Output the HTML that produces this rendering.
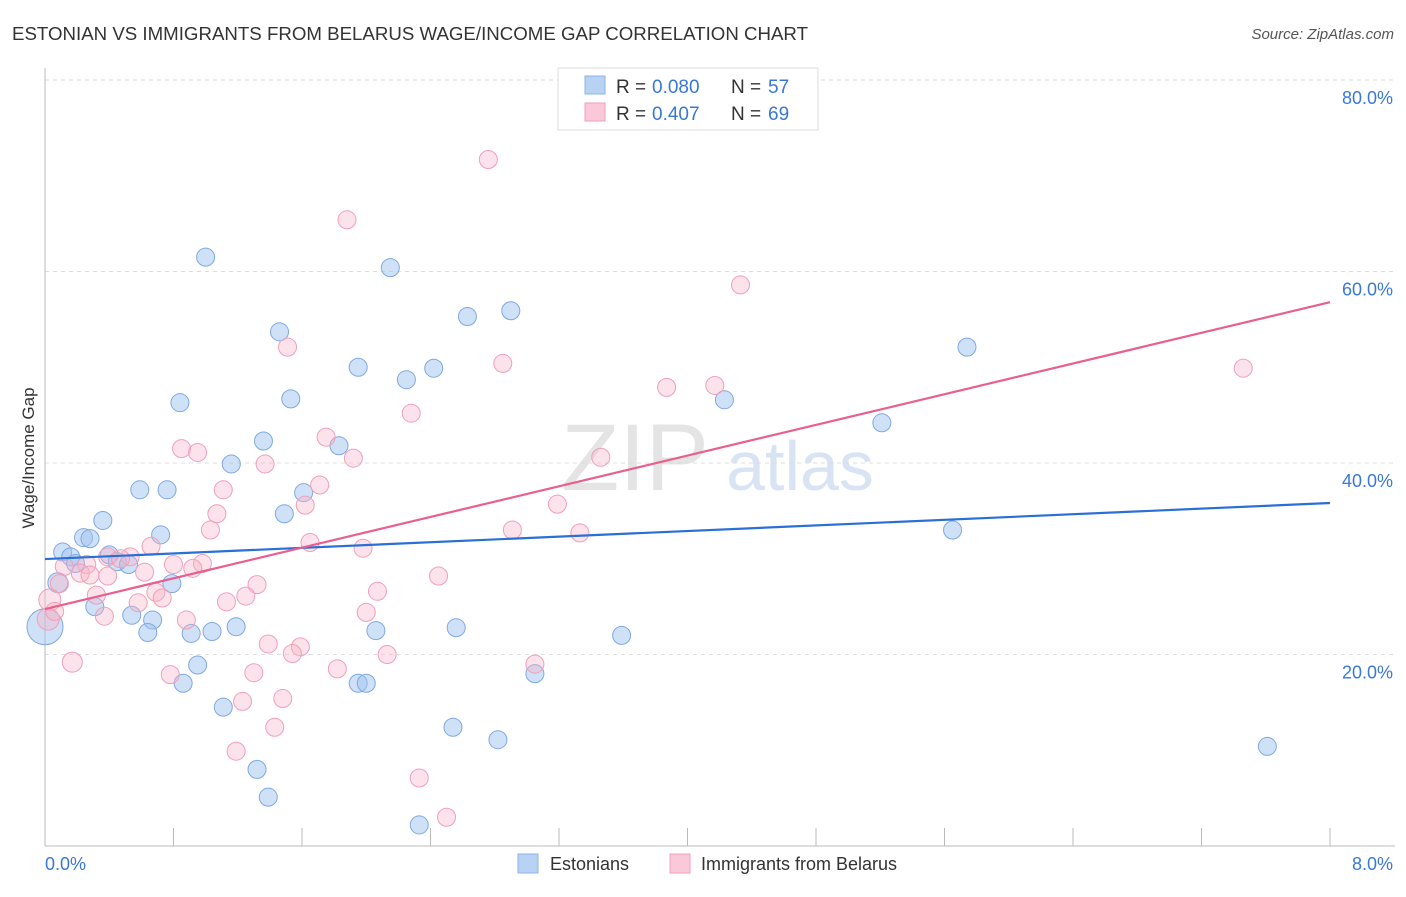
<!DOCTYPE html>
<html><head><meta charset="utf-8"><style>
body{margin:0;background:#fff;font-family:"Liberation Sans",sans-serif;}
svg text{font-family:"Liberation Sans",sans-serif;}
</style></head><body>
<svg id="chart" width="1406" height="892" viewBox="0 0 1406 892">
<text x="12" y="40" font-size="18" fill="#333" textLength="796" lengthAdjust="spacingAndGlyphs">ESTONIAN VS IMMIGRANTS FROM BELARUS WAGE/INCOME GAP CORRELATION CHART</text>
<text x="1394" y="39" font-size="15" fill="#555" text-anchor="end" font-style="italic">Source: ZipAtlas.com</text>
<text x="635" y="490" font-size="95" fill="#e4e4e4" font-family="Liberation Serif" text-anchor="middle">ZIP</text>
<text x="800" y="490" font-size="70" fill="#d8e4f4" text-anchor="middle">atlas</text>
<g id="grid"></g>
<g id="axes"></g>
<g id="pts"></g>
<g id="lines"></g>
<text x="34" y="458" font-size="17" fill="#333" text-anchor="middle" transform="rotate(-90 34 458)">Wage/Income Gap</text>
<text x="45" y="870" font-size="18" fill="#3a78d8">0.0%</text>
<text x="1393" y="870" font-size="18" fill="#3a78d8" text-anchor="end">8.0%</text>
<g>
<rect x="558" y="68" width="260" height="62" fill="#fff" stroke="#ddd"/>
<rect x="585" y="76" width="20" height="18" fill="#b8d2f4" stroke="#8db4e6"/>
<text x="616" y="93" font-size="19" fill="#333">R =</text>
<text x="652" y="93" font-size="19" fill="#3a78d8">0.080</text>
<text x="731" y="93" font-size="19" fill="#333">N =</text>
<text x="768" y="93" font-size="19" fill="#3a78d8">57</text>
<rect x="585" y="103" width="20" height="18" fill="#fac8d8" stroke="#f0a0b8"/>
<text x="616" y="120" font-size="19" fill="#333">R =</text>
<text x="652" y="120" font-size="19" fill="#3a78d8">0.407</text>
<text x="731" y="120" font-size="19" fill="#333">N =</text>
<text x="768" y="120" font-size="19" fill="#3a78d8">69</text>
</g>
<g>
<rect x="518" y="854" width="20" height="19" fill="#b8d2f4" stroke="#8db4e6"/>
<text x="550" y="870" font-size="18" fill="#333">Estonians</text>
<rect x="670" y="854" width="20" height="19" fill="#fac8d8" stroke="#f0a0b8"/>
<text x="701" y="870" font-size="18" fill="#333">Immigrants from Belarus</text>
</g>
</svg>
<script>
const yTicks=[20,40,60,80];
const xTickCount=10;
const blueX=[1.0,2.15,2.9,2.63,1.46,5.74,1.95,2.42,2.25,0.84,1.53,4.23,5.21,1.36,1.83,1.16,0.59,0.76,1.61,1.49,0.36,0.72,0.24,0.28,0.11,0.16,0.40,0.45,0.52,0.19,5.65,0.08,0.79,0.31,0.54,0.67,1.19,0.64,1.04,0.91,2.06,2.56,3.59,0.0,0.95,0.86,1.95,2.0,3.05,1.11,2.54,2.82,1.32,1.39,2.33,7.61];
const blueY=[61.5,60.4,55.9,55.3,53.7,52.1,50.0,49.9,48.7,46.3,46.7,46.6,44.2,42.3,41.8,39.9,37.2,37.2,36.9,34.7,34.0,32.5,32.2,32.1,30.7,30.2,30.4,29.7,29.4,29.5,33.0,27.5,27.4,25.0,24.1,23.6,22.9,22.3,22.4,22.2,22.5,22.8,22.0,22.9,18.9,17.0,17.0,17.0,18.0,14.5,12.4,11.1,8.0,5.1,2.2,10.4];
const blueR=[9,9,9,9,9,9,9,9,9,9,9,9,9,9,9,9,9,9,9,9,9,9,9,9,9,9,9,9,9,9,9,10,9,9,9,9,9,9,9,9,9,9,9,18,9,9,9,9,9,9,9,9,9,9,9,9];
const pinkX=[2.76,1.88,4.33,1.51,2.85,7.46,3.87,4.17,2.28,1.75,0.85,0.95,1.92,1.37,3.46,1.11,1.71,3.19,1.62,1.07,1.03,2.91,3.33,1.65,1.98,0.66,0.53,0.39,0.47,0.26,0.12,0.80,0.98,0.22,0.28,0.62,0.92,0.39,2.45,1.32,2.07,0.09,0.32,0.69,0.73,1.25,0.58,1.13,2.0,0.37,0.03,0.88,1.39,1.59,1.54,2.13,0.17,3.05,1.82,1.30,0.78,1.23,1.48,1.43,1.19,2.33,2.5,0.02,0.06];
const pinkY=[71.7,65.4,58.6,52.1,50.4,49.9,47.9,48.1,45.2,42.7,41.5,41.1,40.5,39.9,40.6,37.2,37.7,35.7,35.6,34.7,33.0,33.0,32.7,31.7,31.1,31.3,30.2,30.2,30.0,29.4,29.2,29.4,29.5,28.5,28.3,28.6,29.0,28.2,28.2,27.3,26.6,27.4,26.2,26.5,25.9,26.1,25.4,25.5,24.4,24.0,25.7,23.6,21.1,20.8,20.1,20.0,19.2,19.0,18.5,18.1,17.9,15.1,15.4,12.4,9.9,7.1,3.0,23.7,24.5];
const pinkR=[9,9,9,9,9,9,9,9,9,9,9,9,9,9,9,9,9,9,9,9,9,9,9,9,9,9,9,9,9,9,9,9,9,9,9,9,9,9,9,9,9,9,9,9,9,9,9,9,9,9,11,9,9,9,9,9,10,9,9,9,9,9,9,9,9,9,9,11,9];
const blueTrend=[29.97,35.82];
const pinkTrend=[24.75,56.8];
const xDomain=[0,8];
const NS='http://www.w3.org/2000/svg';
const X=v=>45+(v-xDomain[0])/(xDomain[1]-xDomain[0])*1285;
const Y=v=>846-v*9.575;
function mk(tag,attrs,parent){const e=document.createElementNS(NS,tag);for(const k in attrs)e.setAttribute(k,attrs[k]);document.getElementById(parent).appendChild(e);return e;}
yTicks.forEach(t=>{
 const l=mk('line',{x1:45,x2:1395,y1:Y(t),y2:Y(t),stroke:'#ddd','stroke-dasharray':'4,4'},'grid');
 
 
 const tx=mk('text',{x:1393,y:Y(t)+24,'font-size':18,fill:'#3a78d8','text-anchor':'end'},'grid');
 tx.textContent=t.toFixed(1)+'%';
 
 
});
const ax=mk('line',{x1:45,x2:1395,y1:846,y2:846,stroke:'#bbb'},'axes');


const ay=mk('line',{x1:45,x2:45,y1:68,y2:846,stroke:'#bbb'},'axes');


for(let i=1;i<=xTickCount;i++){
 const v=xDomain[0]+(xDomain[1]-xDomain[0])*i/xTickCount;
 const t=mk('line',{x1:X(v),x2:X(v),y1:828,y2:846,stroke:'#bbb'},'axes');
 
 
}
blueX.forEach((v,i)=>{
 const c=mk('circle',{cx:X(v),cy:Y(blueY[i]),r:blueR[i],fill:'rgba(160,196,240,0.5)',stroke:'#7fa9e0','stroke-width':1},'pts');
 
 
});
pinkX.forEach((v,i)=>{
 const c=mk('circle',{cx:X(v),cy:Y(pinkY[i]),r:pinkR[i],fill:'rgba(248,180,200,0.38)',stroke:'#f0a0b8','stroke-width':1},'pts');
 
 
});
const bl=mk('line',{x1:X(0),x2:X(8),y1:Y(blueTrend[0]),y2:Y(blueTrend[1]),stroke:'#2a6fd6','stroke-width':2.2},'lines');


const pl=mk('line',{x1:X(0),x2:X(8),y1:Y(pinkTrend[0]),y2:Y(pinkTrend[1]),stroke:'#e8608f','stroke-width':2.2},'lines');


</script>
</body></html>
